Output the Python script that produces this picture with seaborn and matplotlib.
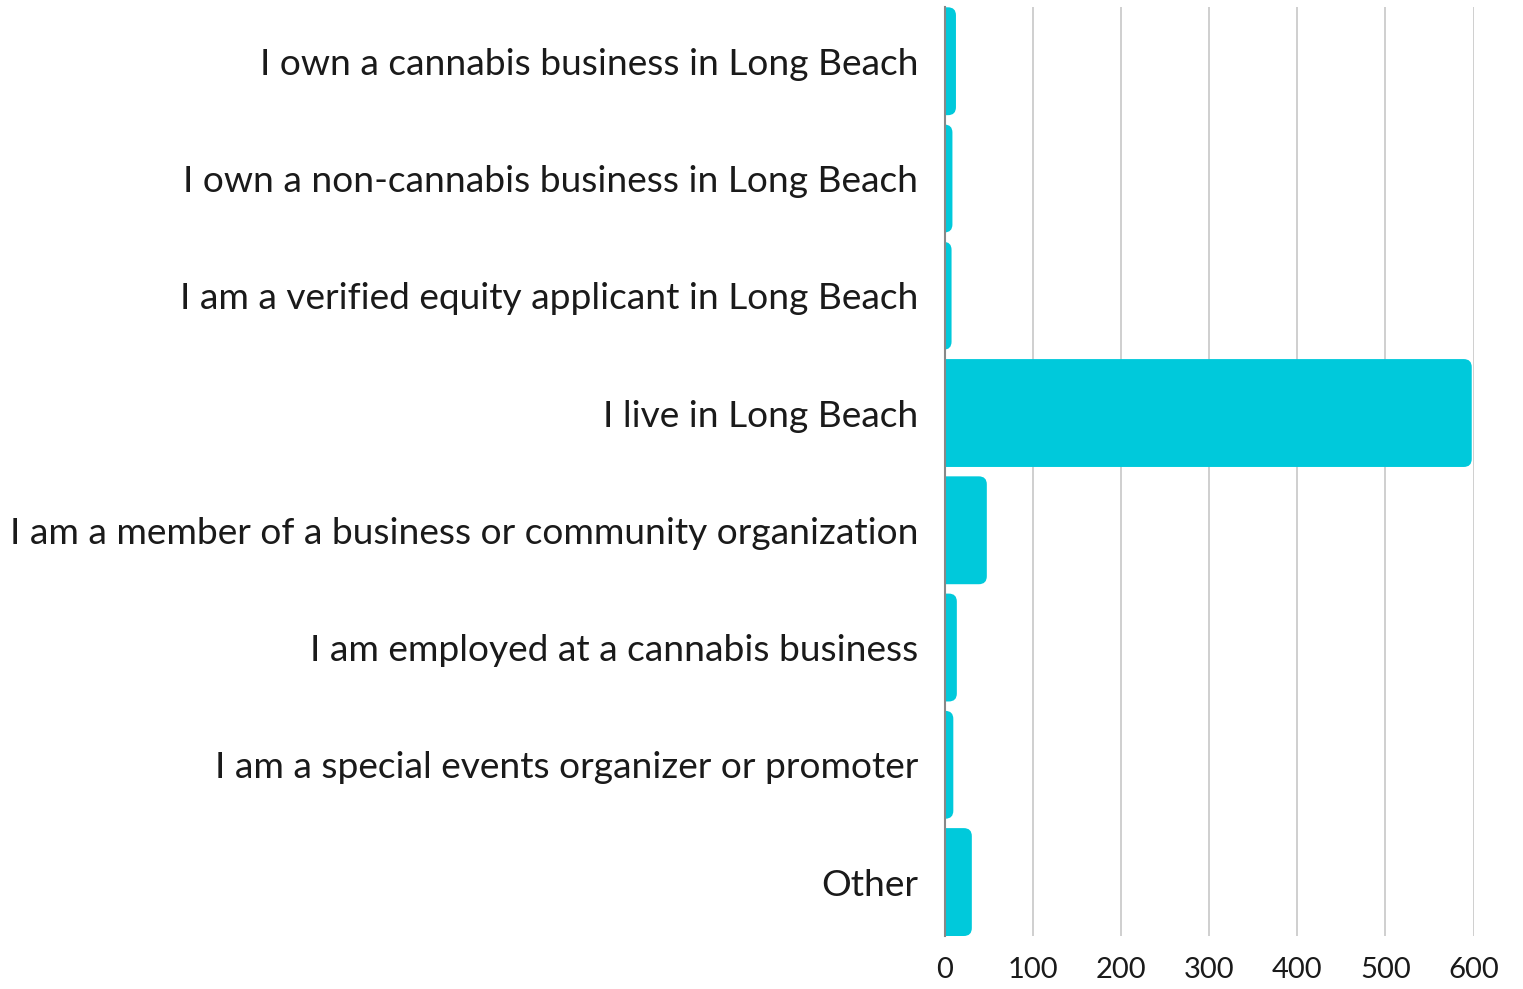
import matplotlib
matplotlib.use("Agg")
import matplotlib.pyplot as plt
import seaborn as sns
import pandas as pd
from matplotlib.patches import FancyBboxPatch

categories = [
    "I own a cannabis business in Long Beach",
    "I own a non-cannabis business in Long Beach",
    "I am a verified equity applicant in Long Beach",
    "I live in Long Beach",
    "I am a member of a business or community organization",
    "I am employed at a cannabis business",
    "I am a special events organizer or promoter",
    "Other",
]
counts = [13, 9, 8, 598, 48, 14, 10, 31]
xticks = [0, 100, 200, 300, 400, 500, 600]

BAR_COLOR = "#00C9DB"
TEXT_COLOR = "#1a1a1a"

sns.set_theme(style="white")
plt.rcParams["font.family"] = ["Lato", "DejaVu Sans"]

df = pd.DataFrame({"category": categories, "count": counts})

fig = plt.figure(figsize=(15.23, 9.89), dpi=100)
ax = fig.add_axes([944.5 / 1523, 1 - 936 / 989, (1473.5 - 944.5) / 1523, (936 - 7.3) / 989])

sns.barplot(data=df, y="category", x="count", orient="h", color=BAR_COLOR,
            width=0.92, saturation=1, ax=ax, zorder=3)

ax.set_xlim(0, 600)
ax.set_ylim(len(categories) - 0.54, -0.46)

# Replace bars with right-rounded bars
fig.canvas.draw()
px_per_x = ax.bbox.width / 600.0
px_per_y = ax.bbox.height / (len(categories) - 0.08)
r_px = 8.0
rx = r_px / px_per_x
ry = r_px / px_per_y
patches = list(ax.patches)
for p in patches:
    x0 = p.get_x()
    y0 = p.get_y()
    w = p.get_width()
    h = p.get_height()
    p.remove()
    fb = FancyBboxPatch((x0 - 3 * rx, y0), w + 3 * rx, h,
                        boxstyle=f"round,pad=0,rounding_size={rx}",
                        mutation_aspect=ry / rx,
                        facecolor=BAR_COLOR, edgecolor="none", zorder=3,
                        clip_on=True)
    ax.add_patch(fb)

ax.set_xticks(xticks)
ax.set_xticklabels([str(t) for t in xticks])
ax.grid(axis="x", color="#cccccc", linewidth=1.3, zorder=0)
ax.set_axisbelow(True)
for s in ["top", "right", "bottom"]:
    ax.spines[s].set_visible(False)
ax.spines["left"].set_color("#888888")
ax.spines["left"].set_linewidth(1.5)
ax.spines["left"].set_zorder(4)

ax.set_xlabel("")
ax.set_ylabel("")
ax.tick_params(axis="y", length=0, pad=19, labelsize=26.7, labelcolor=TEXT_COLOR)
ax.tick_params(axis="x", length=0, pad=15, labelsize=21, labelcolor=TEXT_COLOR)

fig.savefig("out.png", dpi=100)
